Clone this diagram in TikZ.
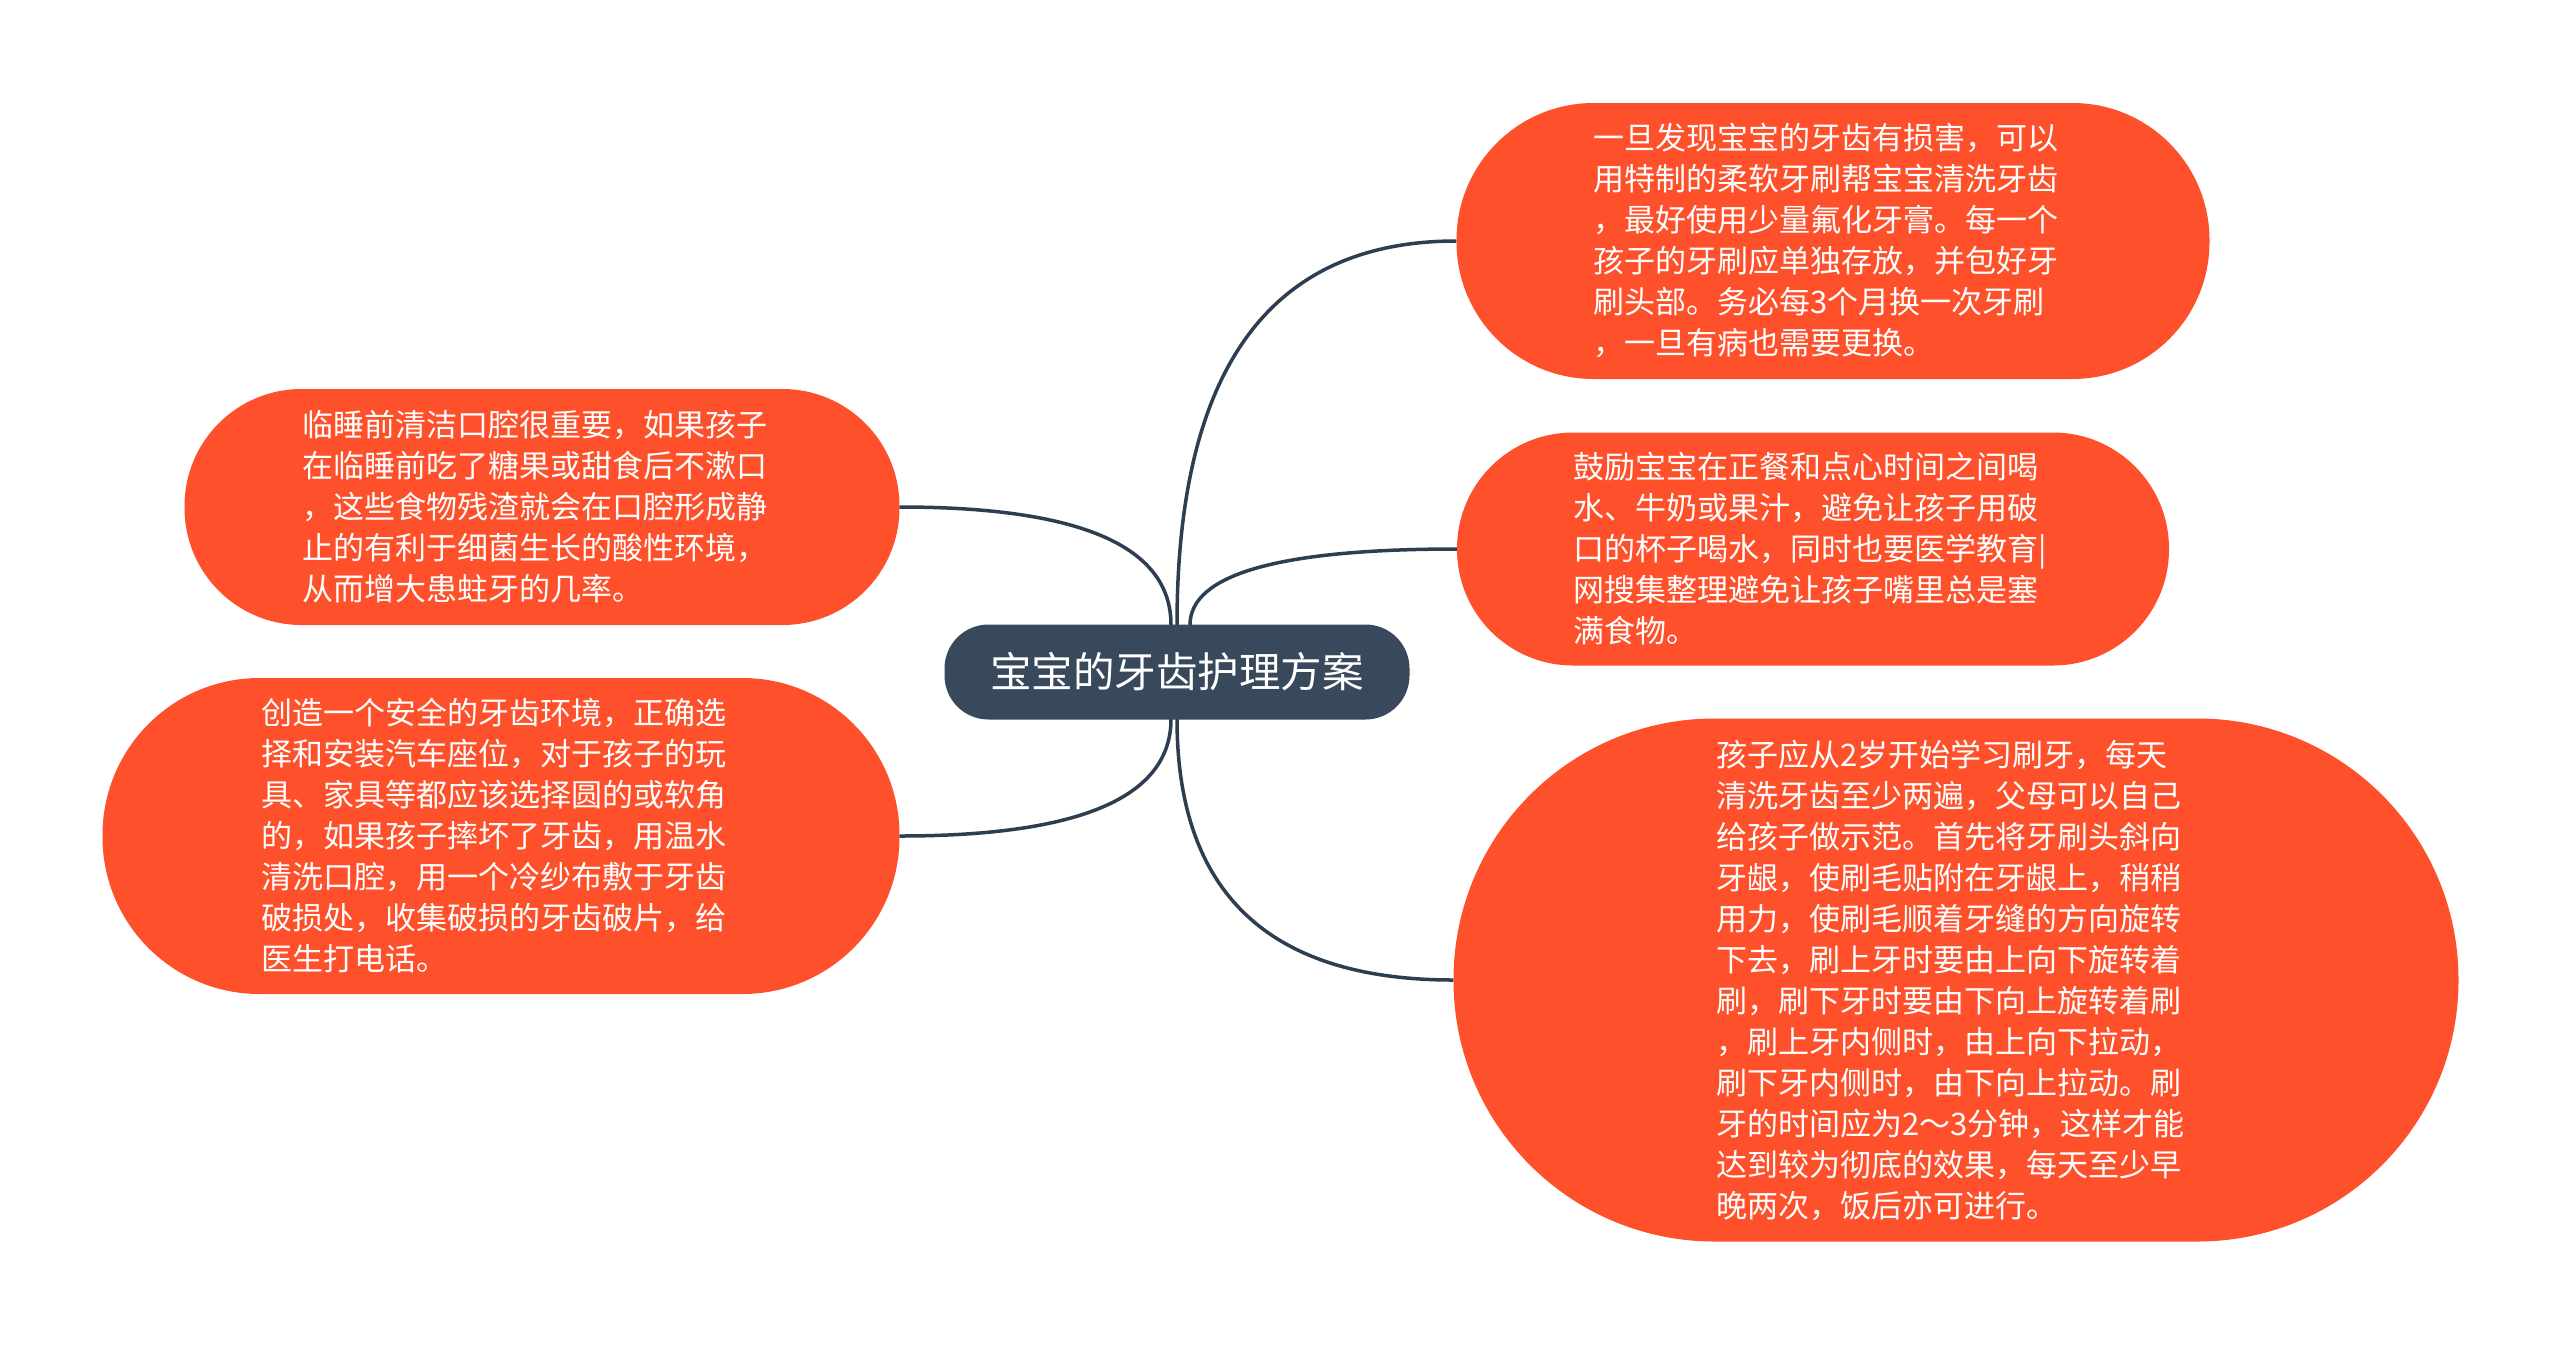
\documentclass[tikz,border=0pt]{standalone}
\usepackage{fontspec}
\setmainfont{Noto Sans CJK SC}
\usetikzlibrary{calc}
\definecolor{leafcol}{RGB}{254,80,42}
\definecolor{rootcol}{RGB}{55,73,90}
\definecolor{linecol}{RGB}{44,62,80}
\tikzset{
  leaf/.style={fill=leafcol, text=white, inner sep=0pt, align=left, text width=480pt,
    font=\fontsize{31}{41}\selectfont},
  rootnode/.style={fill=rootcol, text=white, inner sep=0pt,
    minimum width=465pt, minimum height=95pt, rounded corners=44pt,
    font=\fontsize{41.5}{50}\selectfont},
  conn/.style={draw=linecol, line width=3.5pt},
  branch/.style={to path={.. controls ($(\tikztostart)!0.667!(\tikztostart |- \tikztotarget)$) and ($(\tikztotarget)!0.667!(\tikztostart |- \tikztotarget)$) .. (\tikztotarget)}}
}
\begin{document}
\begin{tikzpicture}[x=1pt,y=-1pt]
\useasboundingbox[fill=white] (0,0) rectangle (2560,1345);

\coordinate (cpos) at (1177,672);
\coordinate (sR1) at (1177,625);
\coordinate (sR2) at (1190,625);
\coordinate (sL1) at (1171,625);
\coordinate (sR3) at (1177,719);
\coordinate (sL2) at (1171,719);

\node[leaf, minimum width=753pt, minimum height=276pt, rounded corners=137pt] (r1) at (1833,241)
{一旦发现宝宝的牙齿有损害，可以\\用特制的柔软牙刷帮宝宝清洗牙齿\\，最好使用少量氟化牙膏。每一个\\孩子的牙刷应单独存放，并包好牙\\刷头部。务必每3个月换一次牙刷\\，一旦有病也需要更换。};

\node[leaf, minimum width=712pt, minimum height=233pt, rounded corners=116pt] (r2) at (1813,549)
{鼓励宝宝在正餐和点心时间之间喝\\水、牛奶或果汁，避免让孩子用破\\口的杯子喝水，同时也要医学教育|\\网搜集整理避免让孩子嘴里总是塞\\满食物。};

\node[leaf, minimum width=1005pt, minimum height=523pt, rounded corners=261pt] (r3) at (1956,980)
{孩子应从2岁开始学习刷牙，每天\\清洗牙齿至少两遍，父母可以自己\\给孩子做示范。首先将牙刷头斜向\\牙龈，使刷毛贴附在牙龈上，稍稍\\用力，使刷毛顺着牙缝的方向旋转\\下去，刷上牙时要由上向下旋转着\\刷，刷下牙时要由下向上旋转着刷\\，刷上牙内侧时，由上向下拉动，\\刷下牙内侧时，由下向上拉动。刷\\牙的时间应为2～3分钟，这样才能\\达到较为彻底的效果，每天至少早\\晚两次，饭后亦可进行。};

\node[leaf, minimum width=715pt, minimum height=236pt, rounded corners=117pt] (l1) at (542,507)
{临睡前清洁口腔很重要，如果孩子\\在临睡前吃了糖果或甜食后不漱口\\，这些食物残渣就会在口腔形成静\\止的有利于细菌生长的酸性环境，\\从而增大患蛀牙的几率。};

\node[leaf, minimum width=797pt, minimum height=316pt, rounded corners=157pt] (l2) at (501,836)
{创造一个安全的牙齿环境，正确选\\择和安装汽车座位，对于孩子的玩\\具、家具等都应该选择圆的或软角\\的，如果孩子摔坏了牙齿，用温水\\清洗口腔，用一个冷纱布敷于牙齿\\破损处，收集破损的牙齿破片，给\\医生打电话。};

\draw[conn] (sR1) to[branch] (r1.west);
\draw[conn] (sR2) to[branch] (r2.west);
\draw[conn] (sL1) to[branch] (l1.east);
\draw[conn] (sR3) to[branch] (r3.west);
\draw[conn] (sL2) to[branch] (l2.east);

\node[rootnode] (c) at (cpos) {宝宝的牙齿护理方案};
\end{tikzpicture}
\end{document}
